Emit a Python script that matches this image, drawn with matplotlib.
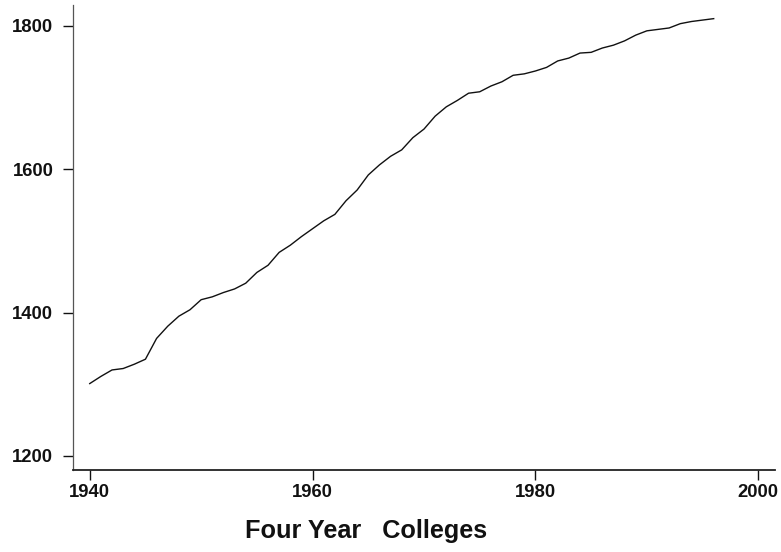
import matplotlib
matplotlib.use("Agg")
import matplotlib.pyplot as plt

plt.rcParams['font.family'] = ['Liberation Sans', 'DejaVu Sans']

years = list(range(1940, 1997))
colleges = [
    1301, 1311, 1320, 1322, 1328, 1335, 1364, 1381, 1395, 1404,
    1418, 1422, 1428, 1433, 1441, 1456, 1466, 1484, 1494, 1506,
    1517, 1528, 1537, 1556, 1571, 1592, 1606, 1618, 1627, 1644,
    1656, 1674, 1687, 1696, 1706, 1708, 1716, 1722, 1731, 1733,
    1737, 1742, 1751, 1755, 1762, 1763, 1769, 1773, 1779, 1787,
    1793, 1795, 1797, 1803, 1806, 1808, 1810,
]
x_ticks = [1940, 1960, 1980, 2000]
y_ticks = [1200, 1400, 1600, 1800]
x_title = "Four Year   Colleges"

fig = plt.figure(figsize=(7.81, 5.52), dpi=100)
ax = fig.add_axes([0.0935, 0.1486, 0.8988, 0.8423])

ax.plot(years, colleges, color='#111111', linewidth=1.0)

ax.set_xlim(1938.5, 2001.5)
ax.set_ylim(1180.5, 1829)
ax.set_xticks(x_ticks)
ax.set_yticks(y_ticks)
ax.set_xticklabels([str(t) for t in x_ticks], fontsize=13.3, fontweight='bold')
ax.set_yticklabels([str(t) for t in y_ticks], fontsize=13.3, fontweight='bold')

ax.spines['top'].set_visible(False)
ax.spines['right'].set_visible(False)
ax.spines['left'].set_color('#555555')
ax.spines['left'].set_linewidth(0.9)
ax.spines['bottom'].set_color('#222222')
ax.spines['bottom'].set_linewidth(1.3)

ax.tick_params(axis='y', direction='out', length=7.2, width=1.0, pad=7, colors='#111111')
ax.tick_params(axis='x', direction='out', length=7.2, width=1.0, pad=3, colors='#111111')

fig.text(366 / 781, 0.0254, x_title, ha='center', va='baseline',
         fontsize=18.2, fontweight='bold', color='#111111')

fig.savefig("out.png", dpi=100)
